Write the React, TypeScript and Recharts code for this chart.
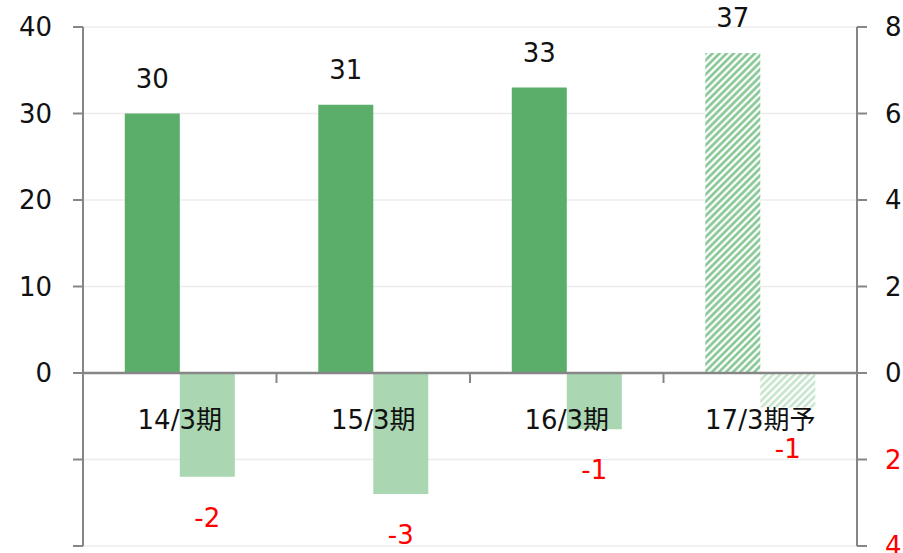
import React from "react"
import { BarChart, Bar, XAxis, YAxis, CartesianGrid, ReferenceLine, LabelList, Cell } from "recharts"

const categories = ["14/3期", "15/3期", "16/3期", "17/3期予"]
const salesValues = [30, 31, 33, 37]
const profitValues = [-2.4, -2.8, -1.3, -0.8]
const leftTicks = [-20, -10, 0, 10, 20, 30, 40]
const rightTicks = [-4, -2, 0, 2, 4, 6, 8]

const data = categories.map((name, i) => ({ name, sales: salesValues[i], profit: profitValues[i] }))

const W = 903
const H = 553
const M = { top: 27, right: 0, bottom: 0, left: 0 }
const LEFT_W = 83
const RIGHT_W = 46
const XAXIS_H = 7
const PLOT_H = H - M.top - M.bottom - XAXIS_H
const PLOT_W = W - LEFT_W - RIGHT_W
const ZERO_Y = M.top + PLOT_H * (40 / 60)
const BAND = PLOT_W / categories.length

const FONT = '"DejaVu Sans", Verdana, "Noto Sans CJK JP", sans-serif'
const FS = 26
const AXIS = "#868686"
const DARK = "#5aae6a"
const LIGHT = "#aad6b1"

function CategoryTick(props: any) {
  const { x, payload, index } = props
  return (
    <g>
      <text x={x} y={ZERO_Y + 56} textAnchor="middle" fontSize={FS} fill="#111" fontFamily={FONT}>
        {payload.value}
      </text>
      {index < categories.length - 1 && (
        <line x1={x + BAND / 2} x2={x + BAND / 2} y1={ZERO_Y} y2={ZERO_Y + 10} stroke={AXIS} strokeWidth={2} />
      )}
    </g>
  )
}

function RightTick(props: any) {
  const { x, y, payload } = props
  const v = payload.value as number
  return (
    <text x={x} y={y} dy="0.36em" textAnchor="start" fontSize={FS} fontFamily={FONT} fill={v < 0 ? "#ff0000" : "#111"}>
      {Math.abs(v)}
    </text>
  )
}

function NegLabel(props: any) {
  const { x, y, width, height, value } = props
  const bottom = Math.max(y, y + height)
  return (
    <text x={x + width / 2} y={bottom + 50} textAnchor="middle" fontSize={FS} fill="#ff0000" fontFamily={FONT}>
      {Math.round(Number(value))}
    </text>
  )
}

export default function App() {
  return (
    <div style={{ position: "absolute", left: 0, top: 0, background: "#fff" }}>
      <BarChart width={W} height={H} data={data} margin={M} barCategoryGap="21.6%" barGap={0}>
        <defs>
          <pattern id="hatchDark" patternUnits="userSpaceOnUse" width={5} height={5} patternTransform="rotate(45)">
            <rect width={5} height={5} fill="#ffffff" />
            <line x1={1.5} y1={0} x2={1.5} y2={5} stroke="#7fc48e" strokeWidth={2.5} />
          </pattern>
          <pattern id="hatchLight" patternUnits="userSpaceOnUse" width={5} height={5} patternTransform="rotate(45)">
            <rect width={5} height={5} fill="#ffffff" />
            <line x1={1.5} y1={0} x2={1.5} y2={5} stroke="#c3e4c9" strokeWidth={2.5} />
          </pattern>
        </defs>
        <CartesianGrid yAxisId="left" vertical={false} stroke="#ececec" strokeWidth={1.5} />
        <XAxis
          dataKey="name"
          height={XAXIS_H}
          axisLine={false}
          tickLine={false}
          interval={0}
          tick={<CategoryTick />}
        />
        <YAxis
          yAxisId="left"
          width={LEFT_W}
          domain={[-20, 40]}
          ticks={leftTicks}
          interval={0}
          tickFormatter={(v: number) => (v >= 0 ? String(v) : "")}
          axisLine={{ stroke: AXIS, strokeWidth: 2 }}
          tickLine={{ stroke: AXIS, strokeWidth: 2 }}
          tickSize={10}
          tickMargin={21}
          tick={{ fontSize: FS, fill: "#111", fontFamily: FONT }}
        />
        <YAxis
          yAxisId="right"
          orientation="right"
          width={RIGHT_W}
          domain={[-4, 8]}
          ticks={rightTicks}
          interval={0}
          axisLine={{ stroke: AXIS, strokeWidth: 2 }}
          tickLine={{ stroke: AXIS, strokeWidth: 2 }}
          tickSize={10}
          tickMargin={18}
          tick={<RightTick />}
        />
        <Bar yAxisId="left" dataKey="sales" fill={DARK} isAnimationActive={false}>
          {data.map((d, i) => (
            <Cell key={d.name} fill={i === data.length - 1 ? "url(#hatchDark)" : DARK} />
          ))}
          <LabelList dataKey="sales" position="top" offset={26} fontSize={FS} fill="#111" fontFamily={FONT} />
        </Bar>
        <Bar yAxisId="right" dataKey="profit" fill={LIGHT} isAnimationActive={false}>
          {data.map((d, i) => (
            <Cell key={d.name} fill={i === data.length - 1 ? "url(#hatchLight)" : LIGHT} />
          ))}
          <LabelList dataKey="profit" content={<NegLabel />} />
        </Bar>
        <ReferenceLine yAxisId="left" y={0} stroke={AXIS} strokeWidth={2.5} />
      </BarChart>
    </div>
  )
}
